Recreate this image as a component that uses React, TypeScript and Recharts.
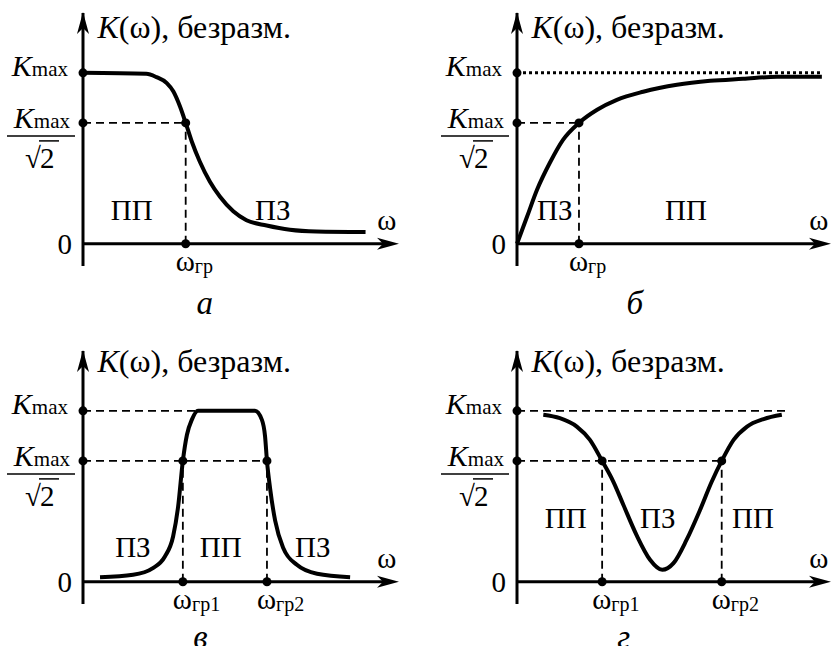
import React from "react"
import { LineChart, Line, XAxis, YAxis, ReferenceLine, ReferenceDot } from "recharts"

const FONT = "Liberation Serif, Tinos, DejaVu Serif, Times New Roman, serif"

// Levels on the K axis
const KMAX = 1
const KCUT = KMAX / Math.SQRT2

// а — low-pass
const lowW = [0, 2.01, 2.33, 2.66, 2.87, 3.08, 3.26, 3.45, 3.71, 4.03, 4.35, 4.77, 5.19, 5.83, 6.57, 7.41, 8.97]
const lowK = [1.0, 0.994, 0.975, 0.94, 0.891, 0.803, KCUT, 0.6, 0.48, 0.363, 0.275, 0.19, 0.138, 0.107, 0.082, 0.072, 0.069]
const lowCut = 3.26

// б — high-pass
const highW = [0, 0.32, 0.64, 1.05, 1.47, 1.98, 2.56, 3.19, 4.03, 5.11, 6.17, 7.22, 8.31, 9.74]
const highK = [0, 0.158, 0.316, 0.474, 0.608, KCUT, 0.784, 0.842, 0.889, 0.93, 0.953, 0.965, 0.977, 0.977]
const highCut = 1.98
const highEnd = 9.74

// в — band-pass
const bandW = [0.54, 1.59, 2.22, 2.6, 2.86, 3.02, 3.17, 3.3, 3.46, 3.65, 5.46, 5.68, 5.78, 5.84, 5.94, 6.1, 6.35, 6.79, 7.43, 8.48]
const bandK = [0.027, 0.041, 0.08, 0.148, 0.265, 0.44, KCUT, 0.86, 0.95, 1.0, 1.0, 0.947, 0.85, KCUT, 0.546, 0.357, 0.2, 0.099, 0.047, 0.027]
const bandCuts = [3.17, 5.84]
const bandTop = 3.62

// г — band-stop
const stopW = [0.84, 1.37, 1.91, 2.33, 2.72, 3.08, 3.4, 3.82, 4.25, 4.64, 5.0, 5.42, 5.85, 6.22, 6.54, 6.92, 7.35, 7.88, 8.46]
const stopK = [0.977, 0.957, 0.908, 0.83, KCUT, 0.585, 0.449, 0.273, 0.129, 0.07, 0.109, 0.246, 0.421, 0.585, KCUT, 0.83, 0.908, 0.952, 0.977]
const stopCuts = [2.72, 6.54]
const stopEnd = 8.66

const toRows = (w: number[], k: number[]) => w.map((x, i) => ({ w: x, k: k[i] }))

const W = 416
const H = 323
const X_DOMAIN: [number, number] = [0, 10]
const Y_DOMAIN: [number, number] = [-0.13, 1.35]
const DASH = "8 5"
const serif = { fontFamily: FONT }

function KTick(props: any) {
  const { x, y, payload } = props
  const v = payload.value
  if (v === 0) {
    return (
      <text x={x - 11} y={y + 10} textAnchor="end" style={serif} fontSize={29}>
        0
      </text>
    )
  }
  if (v === KMAX) {
    return (
      <text x={x - 15} y={y + 3} textAnchor="end" style={serif}>
        <tspan fontStyle="italic" fontSize={30}>K</tspan>
        <tspan fontSize={21}>max</tspan>
      </text>
    )
  }
  return (
    <g style={serif}>
      <text x={x - 13} y={y + 5} textAnchor="end" style={serif}>
        <tspan fontStyle="italic" fontSize={30}>K</tspan>
        <tspan fontSize={21}>max</tspan>
      </text>
      <line x1={x - 76} x2={x - 8} y1={y + 13} y2={y + 13} stroke="#000" strokeWidth={1.5} />
      <text x={x - 42} y={y + 45} textAnchor="end" fontSize={29} style={serif}>
        √
      </text>
      <text x={x - 43} y={y + 45} fontSize={29} style={serif}>
        2
      </text>
      <line x1={x - 44} x2={x - 24} y1={y + 18} y2={y + 18} stroke="#000" strokeWidth={1.5} />
    </g>
  )
}

const note = (key: string, x: number, y: number, content: React.ReactNode, extra: any = {}) => (
  <ReferenceDot
    key={key}
    x={x}
    y={y}
    r={0}
    ifOverflow="visible"
    shape={(p: any) => (
      <text x={p.cx} y={p.cy} style={serif} fontSize={29} {...extra}>
        {content}
      </text>
    )}
  />
)

const dot = (key: string, x: number, y: number) => (
  <ReferenceDot key={key} x={x} y={y} r={4.5} fill="#000" stroke="none" ifOverflow="visible" />
)

const cutMark = (key: string, w: number, sub: string) => (
  <ReferenceDot
    key={key}
    x={w}
    y={0}
    ifOverflow="visible"
    shape={(p: any) => (
      <g>
        <circle cx={p.cx} cy={p.cy} r={4.5} fill="#000" />
        <text x={p.cx - 10} y={p.cy + 27} style={serif} fontSize={29}>
          ω<tspan fontSize={20} dy={2}>{sub}</tspan>
        </text>
      </g>
    )}
  />
)

const dashed = (key: string, x1: number, y1: number, x2: number, y2: number, dash = DASH, width = 1.8) => (
  <ReferenceLine
    key={key}
    segment={[{ x: x1, y: y1 }, { x: x2, y: y2 }]}
    stroke="#000"
    strokeWidth={width}
    strokeDasharray={dash}
    ifOverflow="visible"
  />
)

function Plot({ rows, left, top, right, children }: any) {
  const bottomRow = top > 0
  const margin = {
    top: bottomRow ? 28 : 13,
    bottom: bottomRow ? 42 : 57,
    left: right ? 41 : 23,
    right: right ? 2 : 18,
  }
  return (
    <div style={{ position: "absolute", left, top, width: W, height: H }}>
      <LineChart width={W} height={H} data={rows} margin={margin}>
        <XAxis type="number" dataKey="w" domain={X_DOMAIN} hide />
        <YAxis
          type="number"
          domain={Y_DOMAIN}
          ticks={[0, KCUT, KMAX]}
          interval={0}
          width={60}
          tickSize={0}
          tickMargin={0}
          tickLine={false}
          axisLine={{ stroke: "#000", strokeWidth: 3 }}
          tick={<KTick />}
        />
        {/* x axis with arrow */}
        <ReferenceLine segment={[{ x: 0, y: 0 }, { x: 9.6, y: 0 }]} stroke="#000" strokeWidth={3} />
        <ReferenceDot
          x={10}
          y={0}
          ifOverflow="visible"
          shape={(p: any) => (
            <path
              d={`M${p.cx + 1},${p.cy} L${p.cx - 21},${p.cy - 6} L${p.cx - 15},${p.cy} L${p.cx - 21},${p.cy + 6} Z`}
              fill="#000"
            />
          )}
        />
        <ReferenceDot
          x={0}
          y={Y_DOMAIN[1]}
          ifOverflow="visible"
          shape={(p: any) => (
            <path
              d={`M${p.cx},${p.cy - 1} L${p.cx - 6},${p.cy + 21} L${p.cx},${p.cy + 15} L${p.cx + 6},${p.cy + 21} Z`}
              fill="#000"
            />
          )}
        />
        {note("omega", 9.34, 0.082, "ω")}
        {children}
      </LineChart>
    </div>
  )
}

const curve = (
  <Line type="monotone" dataKey="k" stroke="#000" strokeWidth={4} dot={false} activeDot={false} isAnimationActive={false} />
)

const title = (y: number) =>
  note(
    "title",
    0.46,
    y,
    <>
      <tspan fontStyle="italic">K</tspan>(ω), безразм.
    </>,
    { fontSize: 32 }
  )

export default function App() {
  return (
    <div style={{ position: "absolute", left: 0, top: 0, width: 832, height: 646, background: "#fff", overflow: "hidden" }}>
      {/* а */}
      <Plot rows={toRows(lowW, lowK)} left={0} top={0}>
        {title(1.205)}
        {dashed("h1", 0, KCUT, lowCut, KCUT)}
        {dashed("v1", lowCut, 0, lowCut, KCUT)}
        {curve}
        {dot("d1", 0, KMAX)}
        {dot("d2", 0, KCUT)}
        {dot("d3", lowCut, KCUT)}
        {cutMark("c1", lowCut, "гр")}
        {note("pp", 0.88, 0.14, "ПП")}
        {note("pz", 5.46, 0.14, "ПЗ")}
        {note("letter", 3.6, -0.41, "а", { fontStyle: "italic", fontSize: 33 })}
      </Plot>

      {/* б */}
      <Plot rows={toRows(highW, highK)} left={416} top={0} right>
        {title(1.205)}
        {dashed("kmax", 0, KMAX, highEnd, KMAX, "3 3", 3)}
        {dashed("h1", 0, KCUT, highCut, KCUT)}
        {dashed("v1", highCut, 0, highCut, KCUT)}
        {curve}
        {dot("d1", 0, KMAX)}
        {dot("d2", 0, KCUT)}
        {dot("d3", highCut, KCUT)}
        {cutMark("c1", highCut, "гр")}
        {note("pz", 0.64, 0.14, "ПЗ")}
        {note("pp", 4.73, 0.14, "ПП")}
        {note("letter", 3.5, -0.41, "б", { fontStyle: "italic", fontSize: 33 })}
      </Plot>

      {/* в */}
      <Plot rows={toRows(bandW, bandK)} left={0} top={323}>
        {title(1.228)}
        {dashed("kmax", 0, KMAX, bandTop, KMAX)}
        {dashed("h1", 0, KCUT, bandCuts[1], KCUT)}
        {dashed("v1", bandCuts[0], 0, bandCuts[0], KCUT)}
        {dashed("v2", bandCuts[1], 0, bandCuts[1], KCUT)}
        {curve}
        {dot("d1", 0, KMAX)}
        {dot("d2", 0, KCUT)}
        {dot("d3", bandCuts[0], KCUT)}
        {dot("d4", bandCuts[1], KCUT)}
        {cutMark("c1", bandCuts[0], "гр1")}
        {cutMark("c2", bandCuts[1], "гр2")}
        {note("pz1", 1.02, 0.146, "ПЗ")}
        {note("pp", 3.71, 0.146, "ПП")}
        {note("pz2", 6.73, 0.146, "ПЗ")}
        {note("letter", 3.5, -0.39, "в", { fontStyle: "italic", fontSize: 33 })}
      </Plot>

      {/* г */}
      <Plot rows={toRows(stopW, stopK)} left={416} top={323} right>
        {title(1.228)}
        {dashed("kmax", 0, KMAX, stopEnd, KMAX)}
        {dashed("h1", 0, KCUT, stopCuts[1], KCUT)}
        {dashed("v1", stopCuts[0], 0, stopCuts[0], KCUT)}
        {dashed("v2", stopCuts[1], 0, stopCuts[1], KCUT)}
        {curve}
        {dot("d1", 0, KMAX)}
        {dot("d2", 0, KCUT)}
        {dot("d3", stopCuts[0], KCUT)}
        {dot("d4", stopCuts[1], KCUT)}
        {cutMark("c1", stopCuts[0], "гр1")}
        {cutMark("c2", stopCuts[1], "гр2")}
        {note("pp1", 0.89, 0.316, "ПП")}
        {note("pz", 3.93, 0.316, "ПЗ")}
        {note("pp2", 6.87, 0.316, "ПП")}
        {note("letter", 3.2, -0.39, "г", { fontStyle: "italic", fontSize: 33 })}
      </Plot>
    </div>
  )
}
